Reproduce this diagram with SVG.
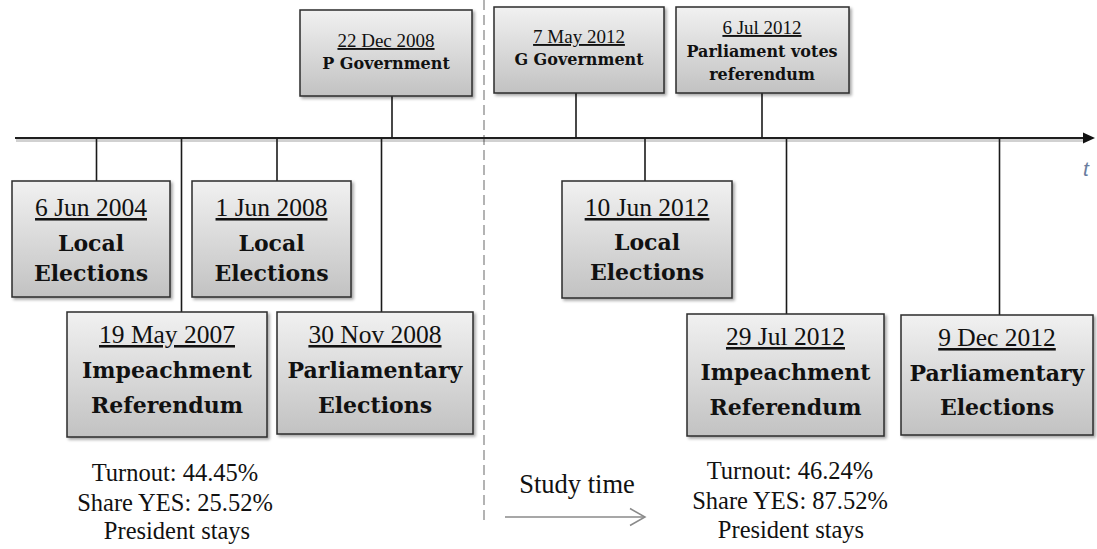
<svg xmlns="http://www.w3.org/2000/svg" width="1097" height="549" viewBox="0 0 1097 549">
<defs>
<linearGradient id="g" x1="0" y1="0" x2="0" y2="1">
<stop offset="0" stop-color="#f1f1f1"/>
<stop offset="1" stop-color="#c2c2c2"/>
</linearGradient>
<filter id="sh" x="-10%" y="-10%" width="125%" height="130%">
<feDropShadow dx="2" dy="2" stdDeviation="1.5" flood-color="#000" flood-opacity="0.35"/>
</filter>
</defs>
<style>
.box{fill:url(#g);stroke:#2b2b2b;stroke-width:1.5;filter:url(#sh)}
.c{stroke:#1a1a1a;stroke-width:1.6;fill:none}
.d{font-family:"Liberation Serif",serif;fill:#111;text-anchor:middle;text-decoration:underline}
.b{font-family:"DejaVu Serif",serif;font-weight:bold;fill:#111;text-anchor:middle}
.L{font-size:25.5px}
.S{font-size:19px}
.bl{font-size:22px}
.bs{font-size:16px}
.r{font-family:"Liberation Serif",serif;font-size:24.5px;fill:#111;text-anchor:middle}
</style>
<rect width="1097" height="549" fill="#fff"/>
<line x1="484" y1="0" x2="484" y2="525" stroke="#9a9a9a" stroke-width="1.5" stroke-dasharray="10,5"/>
<g id="connectors">
<line x1="16" y1="140.5" x2="1086" y2="140.5" stroke="#000" stroke-opacity="0.18" stroke-width="3"/>
<line x1="15" y1="138" x2="1085" y2="138" stroke="#1f1f1f" stroke-width="2"/>
<polygon points="1083,132.5 1095,138 1083,143.5" fill="#111"/>
<line class="c" x1="392" y1="96" x2="392" y2="138"/>
<line class="c" x1="576" y1="93" x2="576" y2="138"/>
<line class="c" x1="762" y1="93" x2="762" y2="138"/>
<line class="c" x1="96.5" y1="138" x2="96.5" y2="181"/>
<line class="c" x1="277" y1="138" x2="277" y2="181"/>
<line class="c" x1="181.5" y1="138" x2="181.5" y2="312"/>
<line class="c" x1="381.5" y1="138" x2="381.5" y2="312"/>
<line class="c" x1="645" y1="138" x2="645" y2="181"/>
<line class="c" x1="786.5" y1="138" x2="786.5" y2="314"/>
<line class="c" x1="999.5" y1="138" x2="999.5" y2="315"/>
<line x1="505" y1="517" x2="645" y2="517" stroke="#8a8a8a" stroke-width="1.5"/>
<polyline points="630,508.5 645,517 630,525.5" fill="none" stroke="#8a8a8a" stroke-width="1.5"/>
</g>
<text x="1086" y="176" font-family="Liberation Sans,sans-serif" font-style="italic" font-size="21" fill="#6a7d9e" text-anchor="middle">t</text>
<g id="n-22dec2008">
<rect class="box" x="300" y="10" width="172" height="86"/>
<text class="d S" x="386" y="47">22 Dec 2008</text>
<text class="b bs" x="386" y="69">P Government</text>
</g>
<g id="n-7may2012">
<rect class="box" x="494" y="7" width="170" height="86"/>
<text class="d S" x="579" y="43">7 May 2012</text>
<text class="b bs" x="579" y="65">G Government</text>
</g>
<g id="n-6jul2012">
<rect class="box" x="676" y="7" width="173" height="86"/>
<text class="d S" x="762" y="34">6 Jul 2012</text>
<text class="b bs" x="762" y="57">Parliament votes</text>
<text class="b bs" x="762" y="80">referendum</text>
</g>
<g id="n-6jun2004">
<rect class="box" x="12" y="181" width="158" height="116"/>
<text class="d L" x="91" y="216">6 Jun 2004</text>
<text class="b bl" x="91" y="251">Local</text>
<text class="b bl" x="91" y="281">Elections</text>
</g>
<g id="n-1jun2008">
<rect class="box" x="192" y="181" width="159" height="116"/>
<text class="d L" x="271.5" y="216">1 Jun 2008</text>
<text class="b bl" x="271.5" y="251">Local</text>
<text class="b bl" x="271.5" y="281">Elections</text>
</g>
<g id="n-19may2007">
<rect class="box" x="67" y="312" width="200" height="125"/>
<text class="d L" x="167" y="343">19 May 2007</text>
<text class="b bl" x="167" y="378">Impeachment</text>
<text class="b bl" x="167" y="413">Referendum</text>
</g>
<g id="n-30nov2008">
<rect class="box" x="277" y="312" width="196" height="122"/>
<text class="d L" x="375" y="343">30 Nov 2008</text>
<text class="b bl" x="375" y="378">Parliamentary</text>
<text class="b bl" x="375" y="413">Elections</text>
</g>
<g id="n-10jun2012">
<rect class="box" x="562" y="181" width="170" height="117"/>
<text class="d L" x="647" y="216">10 Jun 2012</text>
<text class="b bl" x="647" y="250">Local</text>
<text class="b bl" x="647" y="280">Elections</text>
</g>
<g id="n-29jul2012">
<rect class="box" x="687" y="314" width="197" height="122"/>
<text class="d L" x="785.5" y="345">29 Jul 2012</text>
<text class="b bl" x="785.5" y="380">Impeachment</text>
<text class="b bl" x="785.5" y="415">Referendum</text>
</g>
<g id="n-9dec2012">
<rect class="box" x="901" y="315" width="192" height="120"/>
<text class="d L" x="997" y="346">9 Dec 2012</text>
<text class="b bl" x="997" y="381">Parliamentary</text>
<text class="b bl" x="997" y="415">Elections</text>
</g>
<g id="results-2007">
<text class="r" x="175" y="481">Turnout: 44.45%</text>
<text class="r" x="175" y="511">Share YES: 25.52%</text>
<text class="r" x="177" y="539">President stays</text>
</g>
<g id="results-2012">
<text class="r" x="790" y="479">Turnout: 46.24%</text>
<text class="r" x="790" y="509">Share YES: 87.52%</text>
<text class="r" x="791" y="538">President stays</text>
</g>
<text x="577" y="493" font-family="Liberation Serif,serif" font-size="26.5" fill="#111" text-anchor="middle">Study time</text>
</svg>
